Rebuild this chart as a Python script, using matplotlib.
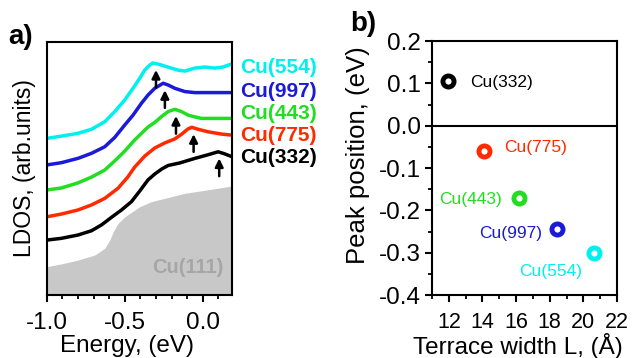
import numpy as np
import matplotlib
matplotlib.use('Agg')
import matplotlib.pyplot as plt
from matplotlib.ticker import MultipleLocator

plt.rcParams['font.family'] = ['Liberation Sans', 'DejaVu Sans']

# Panel a: LDOS curves (energy in eV, LDOS in arb. units)
e_554 = [-1.0, -0.906, -0.80, -0.713, -0.628, -0.564, -0.50, -0.447, -0.404, -0.372, -0.340,
         -0.321, -0.288, -0.224, -0.160, -0.115, -0.051, 0.013, 0.077, 0.128, 0.185]
l_554 = [6.19, 6.28, 6.39, 6.55, 6.85, 7.25, 7.71, 8.17, 8.57, 8.89, 9.09,
         9.17, 9.13, 9.01, 8.89, 8.85, 8.97, 9.01, 8.97, 9.01, 9.13]
e_997 = [-1.0, -0.906, -0.80, -0.713, -0.628, -0.564, -0.50, -0.447, -0.393, -0.350,
         -0.308, -0.254, -0.222, -0.179, -0.115, -0.051, 0.07, 0.185]
l_997 = [5.14, 5.23, 5.40, 5.60, 5.86, 6.23, 6.72, 7.11, 7.58, 7.91,
         8.17, 8.37, 8.30, 8.17, 8.04, 8.00, 8.00, 8.00]
e_443 = [-1.0, -0.906, -0.80, -0.713, -0.628, -0.564, -0.50, -0.436, -0.393, -0.351,
         -0.308, -0.265, -0.222, -0.179, -0.137, -0.094, -0.051, -0.008, 0.185]
l_443 = [4.15, 4.23, 4.43, 4.66, 4.94, 5.30, 5.69, 6.13, 6.39, 6.64,
         6.82, 7.05, 7.25, 7.34, 7.25, 7.11, 7.04, 6.98, 6.98]
e_775 = [-1.0, -0.906, -0.80, -0.713, -0.628, -0.543, -0.481, -0.436, -0.372, -0.308,
         -0.244, -0.179, -0.135, -0.096, -0.071, -0.030, 0.034, 0.120, 0.185]
l_775 = [3.09, 3.20, 3.36, 3.56, 3.82, 4.22, 4.66, 5.06, 5.49, 5.81,
         6.01, 6.17, 6.36, 6.56, 6.63, 6.55, 6.45, 6.36, 6.32]
e_332 = [-1.0, -0.906, -0.80, -0.713, -0.649, -0.585, -0.521, -0.457, -0.404, -0.351,
         -0.308, -0.263, -0.222, -0.147, -0.051, 0.026, 0.098, 0.135, 0.185]
l_332 = [2.17, 2.24, 2.37, 2.54, 2.77, 3.07, 3.36, 3.69, 4.11, 4.55,
         4.78, 4.98, 5.12, 5.22, 5.40, 5.53, 5.66, 5.59, 5.47]
e_111 = [-1.0, -0.906, -0.80, -0.692, -0.628, -0.596, -0.574, -0.543, -0.50, -0.404,
         -0.329, -0.115, 0.098, 0.185]
l_111 = [1.12, 1.23, 1.38, 1.58, 1.85, 2.17, 2.50, 2.83, 3.09, 3.49,
         3.69, 4.02, 4.22, 4.31]

# Panel b: peak position vs terrace width
surfaces = ['Cu(332)', 'Cu(775)', 'Cu(443)', 'Cu(997)', 'Cu(554)']
terrace = [11.95, 14.1, 16.2, 18.45, 20.65]
peak = [0.105, -0.059, -0.172, -0.243, -0.300]
colors = ['black', '#ff2a00', '#22dd22', '#1a1ad8', '#00f0f0']

curves = {
    'Cu(554)': (e_554, l_554),
    'Cu(997)': (e_997, l_997),
    'Cu(443)': (e_443, l_443),
    'Cu(775)': (e_775, l_775),
    'Cu(332)': (e_332, l_332),
}
col = dict(zip(surfaces, colors))
pk = dict(zip(surfaces, peak))
# small vertical nudges (pixels) for the curve labels
label_dy = {'Cu(554)': -3, 'Cu(997)': 1, 'Cu(443)': 5, 'Cu(775)': 0, 'Cu(332)': -1}

fig = plt.figure(figsize=(6.35, 3.58), dpi=100)
W, H = 635, 358
ax1 = fig.add_axes([46.7 / W, 1 - 295 / H, 185 / W, 253 / H])
ax2 = fig.add_axes([432 / W, 1 - 295 / H, 185 / W, 254 / H])

# --- panel a ---
ax1.fill_between(e_111, l_111, 0, color='#c8c8c8', lw=0)
for name, (e, l) in curves.items():
    ax1.plot(e, l, color=col[name], lw=2.5, solid_joinstyle='round')
    # arrow under the peak
    yp = np.interp(pk[name], e, l)
    ax1.annotate('', xy=(pk[name], yp - 0.25), xytext=(pk[name], yp - 0.95),
                 arrowprops=dict(arrowstyle='-|>', color='black', lw=1.8,
                                 mutation_scale=12, shrinkA=0, shrinkB=0))
    ax1.annotate(name, xy=(1.0, l[-1]), xycoords=('axes fraction', 'data'),
                 xytext=(8, label_dy[name]), textcoords='offset pixels',
                 color=col[name], fontsize=15, fontweight='bold',
                 va='center', ha='left', annotation_clip=False)
ax1.text(0.13, 1.1, 'Cu(111)', color='#a6a6a6', fontsize=14.5,
         fontweight='bold', ha='right', va='center')

ax1.set_xlim(-1.0, 0.185)
ax1.set_ylim(0, 10)
ax1.set_yticks([])
ax1.xaxis.set_minor_locator(MultipleLocator(0.1))
ax1.set_xticks([-1.0, -0.5, 0.0])
ax1.set_xticklabels(['-1.0', '-0.5', '0.0'])

# --- panel b ---
ax2.axhline(0, color='black', lw=1.5)
for s, x, y, c in zip(surfaces, terrace, peak, colors):
    ax2.plot(x, y, 'o', mfc='white', mec=c, ms=8, mew=3.5)
offsets = {'Cu(332)': (22, -1, 'left'), 'Cu(775)': (20, 3, 'left'),
           'Cu(443)': (-18, -1, 'right'), 'Cu(997)': (-15, -5, 'right'),
           'Cu(554)': (-12, -19, 'right')}
for s, x, y, c in zip(surfaces, terrace, peak, colors):
    dx, dy, ha = offsets[s]
    ax2.annotate(s, xy=(x, y), xytext=(dx, dy), textcoords='offset pixels',
                 color=c, fontsize=12.5, ha=ha, va='center')

ax2.set_xlim(11, 22)
ax2.set_ylim(-0.4, 0.2)
ax2.xaxis.set_major_locator(MultipleLocator(2))
ax2.xaxis.set_minor_locator(MultipleLocator(1))
ax2.yaxis.set_minor_locator(MultipleLocator(0.05))
ax2.set_yticks([0.2, 0.1, 0.0, -0.1, -0.2, -0.3, -0.4])
ax2.set_yticklabels(['0.2', '0.1', '0.0', '-0.1', '-0.2', '-0.3', '-0.4'])

for ax in (ax1, ax2):
    for sp in ax.spines.values():
        sp.set_linewidth(1.5)
    ax.tick_params(which='major', direction='out', length=5, width=1.5,
                   labelsize=17.5, pad=7)
    ax.tick_params(which='minor', direction='out', length=3.2, width=1.3)
ax2.tick_params(axis='x', which='major', labelsize=15.5, pad=7)
ax2.tick_params(axis='y', which='major', pad=3)

# axis labels
fig.text(127 / W, 1 - 352 / H, 'Energy, (eV)', fontsize=17.5,
         ha='center', va='baseline')
fig.text(25 / W, 1 - 168 / H, 'LDOS, (arb.units)', fontsize=16.5,
         rotation=90, ha='center', va='center')
fig.text(518 / W, 1 - 354 / H, 'Terrace width L, (Å)', fontsize=17.5,
         ha='center', va='baseline')
fig.text(358 / W, 1 - 155 / H, 'Peak position, (eV)', fontsize=18.5,
         rotation=90, ha='center', va='center')

# panel letters
fig.text(8 / W, 1 - 37 / H, 'a)', fontsize=20, fontweight='bold', va='center')
fig.text(350 / W, 1 - 24 / H, 'b)', fontsize=20, fontweight='bold', va='center')

fig.savefig('out.png', dpi=100)
